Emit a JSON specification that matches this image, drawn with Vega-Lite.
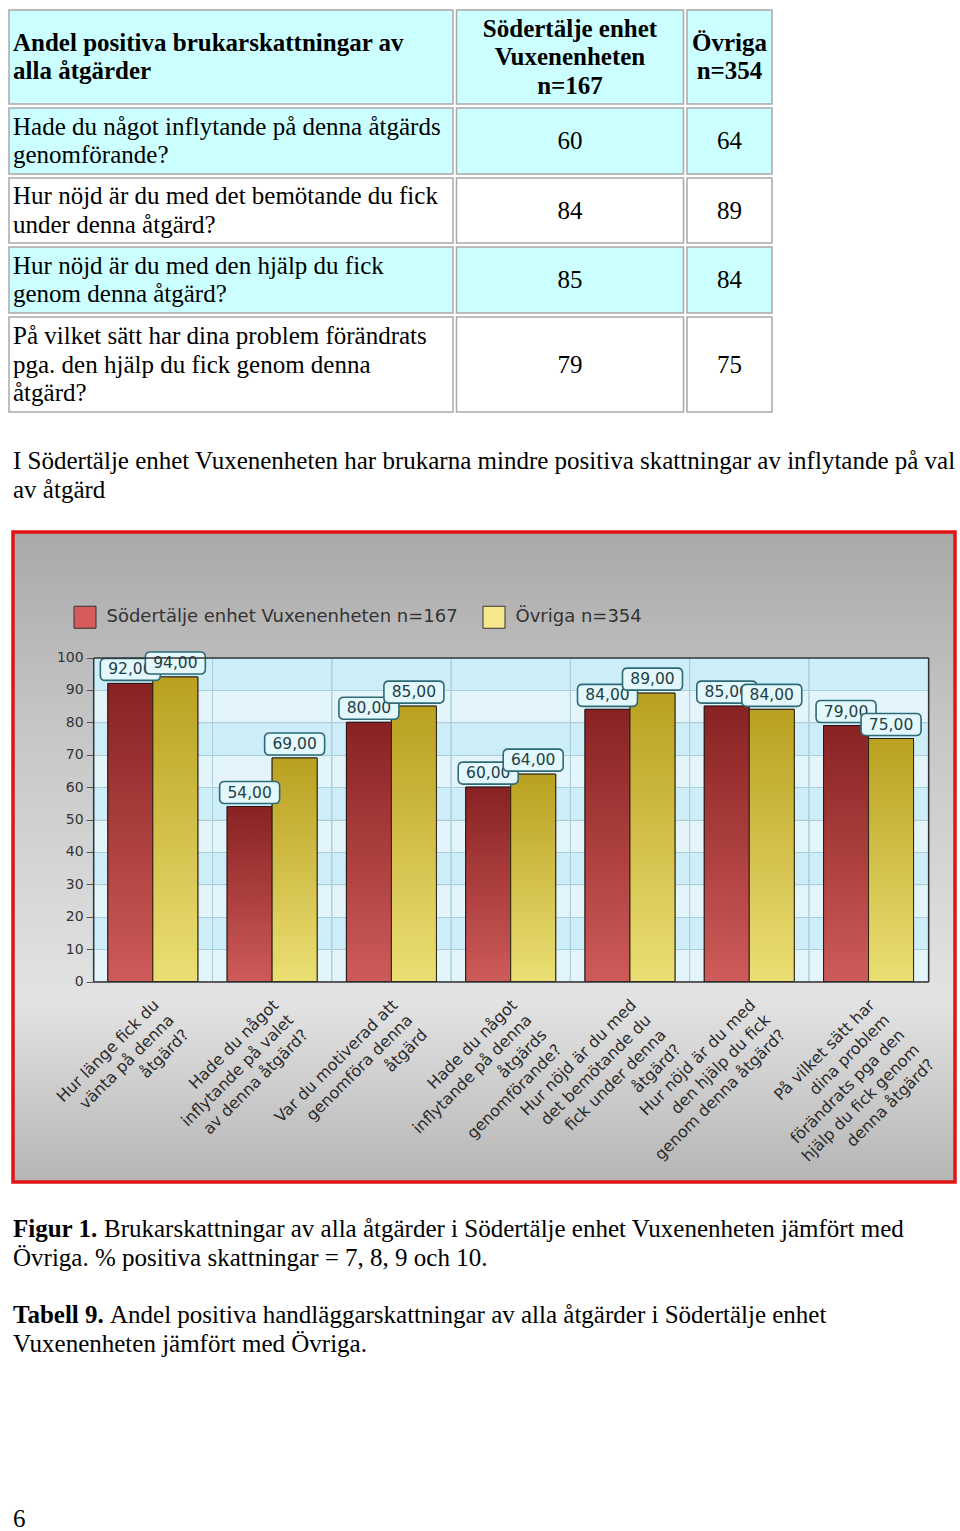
{
  "$schema": "https://vega.github.io/schema/vega-lite/v6.json",
  "background": "white",
  "padding": {"left": 8, "top": 9, "right": 0, "bottom": 0},
  "spacing": 0,
  "resolve": {"scale": {"color": "independent"}, "legend": {"color": "independent"}},
  "config": {
    "view": {"stroke": null},
    "locale": {"number": {"decimal": ",", "thousands": " ", "grouping": [3], "currency": ["", " kr"]}}
  },
  "datasets": {
    "table": [
      {"r": 0, "c": 0, "t": "Andel positiva brukarskattningar av\nalla åtgärder"},
      {"r": 0, "c": 1, "t": "Södertälje enhet\nVuxenenheten\nn=167"},
      {"r": 0, "c": 2, "t": "Övriga\nn=354"},
      {"r": 1, "c": 0, "t": "Hade du något inflytande på denna åtgärds\ngenomförande?"},
      {"r": 1, "c": 1, "t": "60"},
      {"r": 1, "c": 2, "t": "64"},
      {"r": 2, "c": 0, "t": "Hur nöjd är du med det bemötande du fick\nunder denna åtgärd?"},
      {"r": 2, "c": 1, "t": "84"},
      {"r": 2, "c": 2, "t": "89"},
      {"r": 3, "c": 0, "t": "Hur nöjd är du med den hjälp du fick\ngenom denna åtgärd?"},
      {"r": 3, "c": 1, "t": "85"},
      {"r": 3, "c": 2, "t": "84"},
      {"r": 4, "c": 0, "t": "På vilket sätt har dina problem förändrats\npga. den hjälp du fick genom denna\nåtgärd?"},
      {"r": 4, "c": 1, "t": "79"},
      {"r": 4, "c": 2, "t": "75"}
    ],
    "bars": [
      {"question": "Hur länge fick du\nvänta på denna\nåtgärd?", "group": "Södertälje enhet Vuxenenheten n=167", "value": 92},
      {"question": "Hur länge fick du\nvänta på denna\nåtgärd?", "group": "Övriga n=354", "value": 94},
      {"question": "Hade du något\ninflytande på valet\nav denna åtgärd?", "group": "Södertälje enhet Vuxenenheten n=167", "value": 54},
      {"question": "Hade du något\ninflytande på valet\nav denna åtgärd?", "group": "Övriga n=354", "value": 69},
      {"question": "Var du motiverad att\ngenomföra denna\nåtgärd", "group": "Södertälje enhet Vuxenenheten n=167", "value": 80},
      {"question": "Var du motiverad att\ngenomföra denna\nåtgärd", "group": "Övriga n=354", "value": 85},
      {"question": "Hade du något\ninflytande på denna\nåtgärds\ngenomförande?", "group": "Södertälje enhet Vuxenenheten n=167", "value": 60},
      {"question": "Hade du något\ninflytande på denna\nåtgärds\ngenomförande?", "group": "Övriga n=354", "value": 64},
      {"question": "Hur nöjd är du med\ndet bemötande du\nfick under denna\nåtgärd?", "group": "Södertälje enhet Vuxenenheten n=167", "value": 84},
      {"question": "Hur nöjd är du med\ndet bemötande du\nfick under denna\nåtgärd?", "group": "Övriga n=354", "value": 89},
      {"question": "Hur nöjd är du med\nden hjälp du fick\ngenom denna åtgärd?", "group": "Södertälje enhet Vuxenenheten n=167", "value": 85},
      {"question": "Hur nöjd är du med\nden hjälp du fick\ngenom denna åtgärd?", "group": "Övriga n=354", "value": 84},
      {"question": "På vilket sätt har\ndina problem\nförändrats pga den\nhjälp du fick genom\ndenna åtgärd?", "group": "Södertälje enhet Vuxenenheten n=167", "value": 79},
      {"question": "På vilket sätt har\ndina problem\nförändrats pga den\nhjälp du fick genom\ndenna åtgärd?", "group": "Övriga n=354", "value": 75}
    ],
    "captions": [
      {"line": 0, "bold": "Figur 1.", "text": "Brukarskattningar av alla åtgärder i Södertälje enhet Vuxenenheten jämfört med"},
      {"line": 1, "bold": "", "text": "Övriga. % positiva skattningar = 7, 8, 9 och 10."},
      {"line": 3, "bold": "Tabell 9.", "text": "Andel positiva handläggarskattningar av alla åtgärder i Södertälje enhet"},
      {"line": 4, "bold": "", "text": "Vuxenenheten jämfört med Övriga."}
    ]
  },
  "vconcat": [
    {
      "vconcat": [
        {
          "hconcat": [
            {"width": 444, "height": 94, "view": {"fill": "#ccffff", "stroke": "#a9a9a9", "strokeWidth": 1.5}, "data": {"name": "table"}, "transform": [{"filter": "datum.r == 0 && datum.c == 0"}], "mark": {"type": "text", "align": "left", "baseline": "middle", "dy": -14.25, "font": "Liberation Serif", "fontSize": 25, "fontWeight": "bold", "lineBreak": "\n", "lineHeight": 28.5, "color": "#000000"}, "encoding": {"x": {"value": 4}, "text": {"field": "t", "type": "nominal"}}},
            {"width": 227, "height": 94, "view": {"fill": "#ccffff", "stroke": "#a9a9a9", "strokeWidth": 1.5}, "data": {"name": "table"}, "transform": [{"filter": "datum.r == 0 && datum.c == 1"}], "mark": {"type": "text", "align": "center", "baseline": "middle", "dy": -28.5, "font": "Liberation Serif", "fontSize": 25, "fontWeight": "bold", "lineBreak": "\n", "lineHeight": 28.5, "color": "#000000"}, "encoding": {"text": {"field": "t", "type": "nominal"}}},
            {"width": 85, "height": 94, "view": {"fill": "#ccffff", "stroke": "#a9a9a9", "strokeWidth": 1.5}, "data": {"name": "table"}, "transform": [{"filter": "datum.r == 0 && datum.c == 2"}], "mark": {"type": "text", "align": "center", "baseline": "middle", "dy": -14.25, "font": "Liberation Serif", "fontSize": 25, "fontWeight": "bold", "lineBreak": "\n", "lineHeight": 28.5, "color": "#000000"}, "encoding": {"text": {"field": "t", "type": "nominal"}}}
          ],
          "spacing": 1.5
        },
        {
          "hconcat": [
            {"width": 444, "height": 66, "view": {"fill": "#ccffff", "stroke": "#a9a9a9", "strokeWidth": 1.5}, "data": {"name": "table"}, "transform": [{"filter": "datum.r == 1 && datum.c == 0"}], "mark": {"type": "text", "align": "left", "baseline": "middle", "dy": -14.25, "font": "Liberation Serif", "fontSize": 25, "lineBreak": "\n", "lineHeight": 28.5, "color": "#000000"}, "encoding": {"x": {"value": 4}, "text": {"field": "t", "type": "nominal"}}},
            {"width": 227, "height": 66, "view": {"fill": "#ccffff", "stroke": "#a9a9a9", "strokeWidth": 1.5}, "data": {"name": "table"}, "transform": [{"filter": "datum.r == 1 && datum.c == 1"}], "mark": {"type": "text", "align": "center", "baseline": "middle", "font": "Liberation Serif", "fontSize": 25, "color": "#000000"}, "encoding": {"text": {"field": "t", "type": "nominal"}}},
            {"width": 85, "height": 66, "view": {"fill": "#ccffff", "stroke": "#a9a9a9", "strokeWidth": 1.5}, "data": {"name": "table"}, "transform": [{"filter": "datum.r == 1 && datum.c == 2"}], "mark": {"type": "text", "align": "center", "baseline": "middle", "font": "Liberation Serif", "fontSize": 25, "color": "#000000"}, "encoding": {"text": {"field": "t", "type": "nominal"}}}
          ],
          "spacing": 1.5
        },
        {
          "hconcat": [
            {"width": 444, "height": 65, "view": {"fill": "#ffffff", "stroke": "#a9a9a9", "strokeWidth": 1.5}, "data": {"name": "table"}, "transform": [{"filter": "datum.r == 2 && datum.c == 0"}], "mark": {"type": "text", "align": "left", "baseline": "middle", "dy": -14.25, "font": "Liberation Serif", "fontSize": 25, "lineBreak": "\n", "lineHeight": 28.5, "color": "#000000"}, "encoding": {"x": {"value": 4}, "text": {"field": "t", "type": "nominal"}}},
            {"width": 227, "height": 65, "view": {"fill": "#ffffff", "stroke": "#a9a9a9", "strokeWidth": 1.5}, "data": {"name": "table"}, "transform": [{"filter": "datum.r == 2 && datum.c == 1"}], "mark": {"type": "text", "align": "center", "baseline": "middle", "font": "Liberation Serif", "fontSize": 25, "color": "#000000"}, "encoding": {"text": {"field": "t", "type": "nominal"}}},
            {"width": 85, "height": 65, "view": {"fill": "#ffffff", "stroke": "#a9a9a9", "strokeWidth": 1.5}, "data": {"name": "table"}, "transform": [{"filter": "datum.r == 2 && datum.c == 2"}], "mark": {"type": "text", "align": "center", "baseline": "middle", "font": "Liberation Serif", "fontSize": 25, "color": "#000000"}, "encoding": {"text": {"field": "t", "type": "nominal"}}}
          ],
          "spacing": 1.5
        },
        {
          "hconcat": [
            {"width": 444, "height": 66, "view": {"fill": "#ccffff", "stroke": "#a9a9a9", "strokeWidth": 1.5}, "data": {"name": "table"}, "transform": [{"filter": "datum.r == 3 && datum.c == 0"}], "mark": {"type": "text", "align": "left", "baseline": "middle", "dy": -14.25, "font": "Liberation Serif", "fontSize": 25, "lineBreak": "\n", "lineHeight": 28.5, "color": "#000000"}, "encoding": {"x": {"value": 4}, "text": {"field": "t", "type": "nominal"}}},
            {"width": 227, "height": 66, "view": {"fill": "#ccffff", "stroke": "#a9a9a9", "strokeWidth": 1.5}, "data": {"name": "table"}, "transform": [{"filter": "datum.r == 3 && datum.c == 1"}], "mark": {"type": "text", "align": "center", "baseline": "middle", "font": "Liberation Serif", "fontSize": 25, "color": "#000000"}, "encoding": {"text": {"field": "t", "type": "nominal"}}},
            {"width": 85, "height": 66, "view": {"fill": "#ccffff", "stroke": "#a9a9a9", "strokeWidth": 1.5}, "data": {"name": "table"}, "transform": [{"filter": "datum.r == 3 && datum.c == 2"}], "mark": {"type": "text", "align": "center", "baseline": "middle", "font": "Liberation Serif", "fontSize": 25, "color": "#000000"}, "encoding": {"text": {"field": "t", "type": "nominal"}}}
          ],
          "spacing": 1.5
        },
        {
          "hconcat": [
            {"width": 444, "height": 95, "view": {"fill": "#ffffff", "stroke": "#a9a9a9", "strokeWidth": 1.5}, "data": {"name": "table"}, "transform": [{"filter": "datum.r == 4 && datum.c == 0"}], "mark": {"type": "text", "align": "left", "baseline": "middle", "dy": -28.5, "font": "Liberation Serif", "fontSize": 25, "lineBreak": "\n", "lineHeight": 28.5, "color": "#000000"}, "encoding": {"x": {"value": 4}, "text": {"field": "t", "type": "nominal"}}},
            {"width": 227, "height": 95, "view": {"fill": "#ffffff", "stroke": "#a9a9a9", "strokeWidth": 1.5}, "data": {"name": "table"}, "transform": [{"filter": "datum.r == 4 && datum.c == 1"}], "mark": {"type": "text", "align": "center", "baseline": "middle", "font": "Liberation Serif", "fontSize": 25, "color": "#000000"}, "encoding": {"text": {"field": "t", "type": "nominal"}}},
            {"width": 85, "height": 95, "view": {"fill": "#ffffff", "stroke": "#a9a9a9", "strokeWidth": 1.5}, "data": {"name": "table"}, "transform": [{"filter": "datum.r == 4 && datum.c == 2"}], "mark": {"type": "text", "align": "center", "baseline": "middle", "font": "Liberation Serif", "fontSize": 25, "color": "#000000"}, "encoding": {"text": {"field": "t", "type": "nominal"}}}
          ],
          "spacing": 1.5
        }
      ],
      "spacing": 2
    },
    {"width": 10, "height": 33, "data": {"values": []}, "mark": "point"},
    {
      "width": 945, "height": 58,
      "data": {"values": [
        {"line": 0, "text": "I Södertälje enhet Vuxenenheten har brukarna mindre positiva skattningar av inflytande på val"},
        {"line": 1, "text": "av åtgärd"}
      ]},
      "mark": {"type": "text", "align": "left", "baseline": "middle", "font": "Liberation Serif", "fontSize": 25, "color": "#000000"},
      "encoding": {
        "x": {"value": 4},
        "y": {"field": "line", "type": "ordinal", "axis": null},
        "text": {"field": "text", "type": "nominal"}
      }
    },
    {"width": 10, "height": 25.25, "data": {"values": []}, "mark": "point"},
    {
      "resolve": {"scale": {"color": "independent"}, "legend": {"color": "independent"}},
      "hconcat": [
        {"width": 1.75, "height": 650, "data": {"values": []}, "mark": "point"},
        {
          "width": 942, "height": 650,
          "view": {
            "fill": {"gradient": "linear", "x1": 0, "y1": 0, "x2": 0, "y2": 1, "stops": [
              {"offset": 0, "color": "#a9a9a9"},
              {"offset": 0.3, "color": "#c6c6c6"},
              {"offset": 0.72, "color": "#e3e3e3"},
              {"offset": 1, "color": "#b5b5b5"}
            ]},
            "stroke": "#e01414", "strokeWidth": 3.5
          },
          "data": {"name": "bars"},
          "resolve": {"axis": {"x": "independent", "y": "independent"}},
          "layer": [
            {
              "mark": {"type": "bar", "opacity": 0},
              "encoding": {
                "x": {"field": "question", "type": "nominal", "sort": null,
                  "scale": {"range": [80.2, 915.2], "paddingInner": 0, "paddingOuter": 0},
                  "axis": {"orient": "top", "offset": -125.5, "labels": false, "ticks": false, "grid": false, "domain": true, "domainColor": "#333333", "domainWidth": 1.5, "title": null, "zindex": 1}},
                "xOffset": {"field": "group", "type": "nominal", "sort": null,
                  "scale": {"domain": ["Södertälje enhet Vuxenenheten n=167", "Övriga n=354"], "paddingInner": 0, "paddingOuter": 0.3256}},
                "y": {"field": "value", "type": "quantitative",
                  "scale": {"domain": [0, 100], "range": [449.5, 125.5], "nice": false, "zero": true},
                  "axis": {"orient": "left", "values": [5, 15, 25, 35, 45, 55, 65, 75, 85, 95], "labels": false, "ticks": false, "domain": false, "grid": true, "gridWidth": 32.4,
                    "gridColor": {"condition": {"test": "datum.value % 20 == 15", "value": "#cdeef9"}, "value": "#e3f5fb"}, "title": null, "zindex": 0}}
              }
            },
            {
              "mark": {"type": "bar", "opacity": 0},
              "encoding": {
                "x": {"field": "question", "type": "nominal", "sort": null,
                  "axis": {"orient": "bottom", "offset": -200.5, "domain": true, "domainColor": "#333333", "domainWidth": 1.5, "ticks": false, "grid": false,
                    "labelAngle": -45, "labelAlign": "right", "labelBaseline": "top", "labelPadding": 15, "labelOffset": -2,
                    "labelFont": "DejaVu Sans", "labelFontSize": 16, "labelColor": "#2b2b2b", "labelLineHeight": 21, "labelLimit": 0, "labelOverlap": false, "labelBound": false,
                    "labelExpr": "split(datum.label, '\\n')", "title": null, "zindex": 1}},
                "xOffset": {"field": "group", "type": "nominal", "sort": null},
                "y": {"field": "value", "type": "quantitative",
                  "axis": {"orient": "left", "values": [10, 20, 30, 40, 50, 60, 70, 80, 90], "labels": false, "ticks": false, "domain": false, "grid": true, "gridColor": "#a9cfdc", "gridWidth": 1, "title": null, "zindex": 0}}
              }
            },
            {
              "transform": [{"filter": {"field": "group", "equal": "Södertälje enhet Vuxenenheten n=167"}}],
              "mark": {"type": "bar", "fill": "transparent", "stroke": "#a9cfdc", "strokeWidth": 1},
              "encoding": {
                "x": {"field": "question", "type": "nominal", "sort": null, "axis": null},
                "y": {"datum": 100, "type": "quantitative", "axis": null},
                "y2": {"datum": 0}
              }
            },
            {
              "mark": {"type": "bar", "stroke": "#333333", "strokeWidth": 1},
              "encoding": {
                "x": {"field": "question", "type": "nominal", "sort": null, "axis": null},
                "xOffset": {"field": "group", "type": "nominal", "sort": null},
                "y": {"field": "value", "type": "quantitative",
                  "axis": {"orient": "left", "offset": -80.2, "values": [0, 10, 20, 30, 40, 50, 60, 70, 80, 90, 100], "domain": true, "domainColor": "#333333", "domainWidth": 1.5,
                    "ticks": true, "tickSize": 7, "tickColor": "#555555", "labelPadding": 3, "labelFont": "DejaVu Sans", "labelFontSize": 14, "labelColor": "#333333", "grid": false, "title": null, "zindex": 1}},
                "color": {"field": "group", "type": "nominal", "sort": null,
                  "scale": {"domain": ["Södertälje enhet Vuxenenheten n=167", "Övriga n=354"], "range": ["#d65b5b", "#f6e78d"]},
                  "legend": {"orient": "none", "legendX": 60.5, "legendY": 73.5, "direction": "horizontal", "title": null, "symbolType": "square", "symbolSize": 484,
                    "symbolStrokeColor": "#333333", "symbolStrokeWidth": 1, "symbolOpacity": 1, "labelFont": "DejaVu Sans", "labelFontSize": 18, "labelColor": "#333333",
                    "labelOffset": 10, "columnPadding": 22, "padding": 0, "labelLimit": 0}}
              }
            },
            {
              "transform": [{"filter": {"field": "group", "equal": "Södertälje enhet Vuxenenheten n=167"}}],
              "mark": {"type": "bar", "stroke": "#2a1616", "strokeWidth": 1,
                "fill": {"gradient": "linear", "x1": 0, "y1": 0, "x2": 0, "y2": 1, "stops": [{"offset": 0, "color": "#882222"}, {"offset": 1, "color": "#cd5b59"}]}},
              "encoding": {
                "x": {"field": "question", "type": "nominal", "sort": null, "axis": null},
                "xOffset": {"field": "group", "type": "nominal", "sort": null},
                "y": {"field": "value", "type": "quantitative",
                  "axis": {"orient": "right", "offset": -26.8, "domain": true, "domainColor": "#333333", "domainWidth": 1.5, "labels": false, "ticks": false, "grid": false, "title": null, "zindex": 1}}
              }
            },
            {
              "transform": [{"filter": {"field": "group", "equal": "Övriga n=354"}}],
              "mark": {"type": "bar", "stroke": "#2a2410", "strokeWidth": 1,
                "fill": {"gradient": "linear", "x1": 0, "y1": 0, "x2": 0, "y2": 1, "stops": [{"offset": 0, "color": "#b9a020"}, {"offset": 1, "color": "#ebdf74"}]}},
              "encoding": {
                "x": {"field": "question", "type": "nominal", "sort": null, "axis": null},
                "xOffset": {"field": "group", "type": "nominal", "sort": null},
                "y": {"field": "value", "type": "quantitative", "axis": null}
              }
            },
            {
              "transform": [{"filter": {"field": "group", "equal": "Södertälje enhet Vuxenenheten n=167"}}],
              "mark": {"type": "point", "shape": "M-0.833,-0.833 L0.833,-0.833 Q1,-0.833 1,-0.667 L1,-0.267 Q1,-0.1 0.833,-0.1 L-0.833,-0.1 Q-1,-0.1 -1,-0.267 L-1,-0.667 Q-1,-0.833 -0.833,-0.833 Z",
                "size": 3600, "filled": true, "fill": "#e2f8fc", "stroke": "#2d6a76", "strokeWidth": 1.6, "opacity": 1},
              "encoding": {
                "x": {"field": "question", "type": "nominal", "sort": null, "axis": null},
                "xOffset": {"field": "group", "type": "nominal", "sort": null},
                "y": {"field": "value", "type": "quantitative", "axis": null}
              }
            },
            {
              "transform": [{"filter": {"field": "group", "equal": "Södertälje enhet Vuxenenheten n=167"}}],
              "mark": {"type": "text", "font": "DejaVu Sans", "fontSize": 15.5, "color": "#1f3d45", "align": "center", "baseline": "middle", "dy": -14},
              "encoding": {
                "x": {"field": "question", "type": "nominal", "sort": null, "axis": null},
                "xOffset": {"field": "group", "type": "nominal", "sort": null},
                "y": {"field": "value", "type": "quantitative", "axis": null},
                "text": {"field": "value", "type": "quantitative", "format": ".2f"}
              }
            },
            {
              "transform": [{"filter": {"field": "group", "equal": "Övriga n=354"}}],
              "mark": {"type": "point", "shape": "M-0.833,-0.833 L0.833,-0.833 Q1,-0.833 1,-0.667 L1,-0.267 Q1,-0.1 0.833,-0.1 L-0.833,-0.1 Q-1,-0.1 -1,-0.267 L-1,-0.667 Q-1,-0.833 -0.833,-0.833 Z",
                "size": 3600, "filled": true, "fill": "#e2f8fc", "stroke": "#2d6a76", "strokeWidth": 1.6, "opacity": 1},
              "encoding": {
                "x": {"field": "question", "type": "nominal", "sort": null, "axis": null},
                "xOffset": {"field": "group", "type": "nominal", "sort": null},
                "y": {"field": "value", "type": "quantitative", "axis": null}
              }
            },
            {
              "transform": [{"filter": {"field": "group", "equal": "Övriga n=354"}}],
              "mark": {"type": "text", "font": "DejaVu Sans", "fontSize": 15.5, "color": "#1f3d45", "align": "center", "baseline": "middle", "dy": -14},
              "encoding": {
                "x": {"field": "question", "type": "nominal", "sort": null, "axis": null},
                "xOffset": {"field": "group", "type": "nominal", "sort": null},
                "y": {"field": "value", "type": "quantitative", "axis": null},
                "text": {"field": "value", "type": "quantitative", "format": ".2f"}
              }
            }
          ]
        }
      ],
      "spacing": 0
    },
    {"width": 10, "height": 30.45, "data": {"values": []}, "mark": "point"},
    {
      "width": 945, "height": 143.3,
      "data": {"name": "captions"},
      "encoding": {
        "y": {"field": "line", "type": "ordinal", "axis": null, "scale": {"domain": [0, 1, 2, 3, 4]}}
      },
      "layer": [
        {
          "transform": [{"filter": "datum.bold != ''"}],
          "mark": {"type": "text", "align": "left", "baseline": "middle", "font": "Liberation Serif", "fontSize": 25, "fontWeight": "bold", "color": "#000000"},
          "encoding": {"x": {"value": 4}, "text": {"field": "bold", "type": "nominal"}}
        },
        {
          "transform": [{"filter": "datum.line == 0"}],
          "mark": {"type": "text", "align": "left", "baseline": "middle", "font": "Liberation Serif", "fontSize": 25, "color": "#000000", "dx": 91},
          "encoding": {"x": {"value": 4}, "text": {"field": "text", "type": "nominal"}}
        },
        {
          "transform": [{"filter": "datum.line == 3"}],
          "mark": {"type": "text", "align": "left", "baseline": "middle", "font": "Liberation Serif", "fontSize": 25, "color": "#000000", "dx": 97},
          "encoding": {"x": {"value": 4}, "text": {"field": "text", "type": "nominal"}}
        },
        {
          "transform": [{"filter": "datum.bold == ''"}],
          "mark": {"type": "text", "align": "left", "baseline": "middle", "font": "Liberation Serif", "fontSize": 25, "color": "#000000"},
          "encoding": {"x": {"value": 4}, "text": {"field": "text", "type": "nominal"}}
        }
      ]
    },
    {"width": 10, "height": 148, "data": {"values": []}, "mark": "point"},
    {
      "width": 945, "height": 22,
      "data": {"values": [{"page": "6"}]},
      "mark": {"type": "text", "align": "left", "baseline": "middle", "font": "Liberation Serif", "fontSize": 25, "color": "#000000"},
      "encoding": {"x": {"value": 4}, "text": {"field": "page", "type": "nominal"}}
    }
  ]
}
